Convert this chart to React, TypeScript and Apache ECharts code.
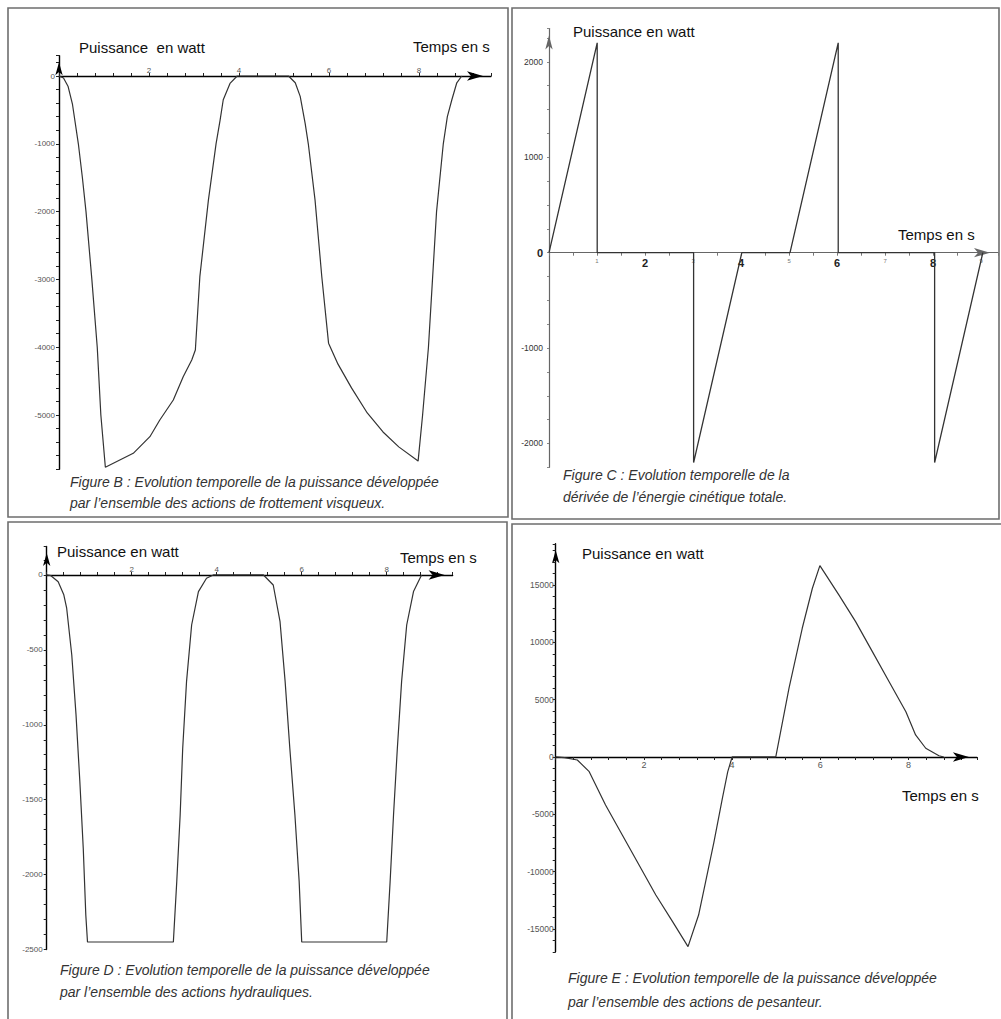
import React, { useEffect, useRef } from "react";
import * as echarts from "echarts";

// ---------- Data ----------
// Figure B : frottement visqueux
const timeB = [0, 0.1, 0.2, 0.3, 0.43, 0.52, 0.6, 0.73, 0.85, 0.93, 1.03, 1.65, 2.02, 2.24, 2.54, 2.76, 2.95, 3.03, 3.13, 3.32, 3.49, 3.58, 3.65, 3.8, 3.96, 5.1, 5.25, 5.36, 5.47, 5.54, 5.69, 5.84, 5.99, 6.2, 6.5, 6.85, 7.2, 7.55, 7.98, 8.08, 8.21, 8.3, 8.39, 8.54, 8.63, 8.73, 8.84, 8.95];
const powerB = [0, -30, -150, -420, -1000, -1500, -2000, -3000, -4000, -5000, -5770, -5565, -5320, -5074, -4779, -4435, -4189, -4041, -2960, -1830, -1000, -650, -350, -110, 0, 0, -100, -300, -700, -1000, -1830, -2960, -3940, -4250, -4600, -4970, -5250, -5470, -5680, -5000, -4000, -3000, -2000, -1000, -600, -350, -100, 0];

// Figure C : dérivée de l'énergie cinétique
const timeC = [0, 1, 1, 3, 3, 4, 5, 6, 6, 8, 8, 9];
const powerC = [0, 2200, 0, 0, -2200, 0, 0, 2200, 0, 0, -2200, 0];

// Figure D : actions hydrauliques
const timeD = [0, 0.1, 0.27, 0.4, 0.47, 0.59, 0.69, 0.78, 0.86, 0.92, 0.96, 2.98, 3.06, 3.14, 3.2, 3.29, 3.41, 3.57, 3.76, 3.92, 5.1, 5.33, 5.49, 5.61, 5.72, 5.84, 5.94, 6.0, 8.0, 8.08, 8.16, 8.25, 8.35, 8.47, 8.63, 8.82];
const powerD = [0, -5, -45, -130, -222, -534, -934, -1380, -1824, -2270, -2450, -2450, -2047, -1602, -1157, -712, -334, -111, -22, 0, 0, -67, -312, -712, -1157, -1602, -2047, -2450, -2450, -2047, -1602, -1157, -712, -334, -111, 0];

// Figure E : pesanteur
const timeE = [0, 0.2, 0.49, 0.76, 1.13, 1.51, 1.89, 2.27, 2.65, 3.0, 3.24, 3.4, 3.59, 3.78, 3.9, 4.0, 4.99, 5.29, 5.59, 5.82, 5.99, 6.42, 6.8, 7.18, 7.56, 7.94, 8.16, 8.39, 8.69, 8.8];
const powerE = [0, -50, -262, -1283, -4188, -6806, -9424, -12042, -14372, -16550, -13790, -10880, -7390, -3600, -1300, 0, 0, 6000, 11230, 14720, 16700, 14140, 11810, 9190, 6570, 3950, 1920, 760, 110, 0];

// Texts
const yName = "Puissance en watt";
const yNameB = "Puissance  en watt";
const xName = "Temps en s";
const captionB = ["Figure B : Evolution temporelle de la puissance développée", "par l’ensemble des actions de frottement visqueux."];
const captionC = ["Figure C : Evolution temporelle de la", "dérivée de l’énergie cinétique totale."];
const captionD = ["Figure D : Evolution temporelle de la puissance développée", "par l’ensemble des actions hydrauliques."];
const captionE = ["Figure E : Evolution temporelle de la puissance développée", "par l’ensemble des actions de pesanteur."];

const FONT = "'Liberation Sans', Arial, sans-serif";

const pairs = (t: number[], p: number[]) => t.map((v, i) => [v, p[i]]);

const isMult = (v: number, m: number) => {
  const q = v / m;
  return Math.abs(q - Math.round(q)) < 1e-6;
};

function arrowLine(color: string, w: number, size: number[]) {
  return {
    show: true,
    onZero: false,
    lineStyle: { color, width: w },
    symbol: ["none", "arrow"],
    symbolSize: size,
    symbolOffset: [0, -size[1] / 2],
  };
}

function text(x: number, y: number, t: string, size: number, opts: any = {}) {
  return {
    type: "text",
    x,
    y,
    silent: true,
    style: {
      text: t,
      fontSize: size,
      fontFamily: FONT,
      fill: opts.fill || "#111",
      fontStyle: opts.italic ? "italic" : "normal",
      verticalAlign: "middle",
      align: "left",
    },
  };
}

function frame(x: number, y: number, w: number, h: number) {
  return {
    type: "rect",
    silent: true,
    shape: { x, y, width: w, height: h },
    style: { fill: "none", stroke: "#6e6e6e", lineWidth: 1.6 },
  };
}

// panel geometry: [left, top, width, height] of the plot, and pixel row of P = 0
const panels = [
  { left: 59, top: 55.66, width: 432, height: 413.58, zeroY: 76, xMax: 9.6 },
  { left: 549, top: 28.5, width: 450.7, height: 438.85, zeroY: 252.7, xMax: 9.35 },
  { left: 46.7, top: 546.5, width: 405.9, height: 403, zeroY: 575, xMax: 9.55 },
  { left: 555.7, top: 543.8, width: 421.2, height: 408, zeroY: 757, xMax: 9.55 },
];

export default function App() {
  const ref = useRef<HTMLDivElement>(null);

  useEffect(() => {
    if (!ref.current) return;
    const chart = echarts.init(ref.current, undefined, { renderer: "svg" });

    const tickLbl = { fontSize: 8, color: "#555", fontFamily: FONT };
    const lineSty = { color: "#333", width: 1.2 };
    const evenLbl = (v: number) => (isMult(v, 2) && Math.round(v) !== 0 ? String(Math.round(v)) : "");

    const grids: any[] = [];
    panels.forEach((p) => grids.push({ left: p.left, top: p.top, width: p.width, height: p.height }));
    // thin grids that carry the visible time axes on the P = 0 row
    panels.forEach((p, i) => {
      const pos = i === 0 || i === 2 ? "top" : "bottom";
      grids.push({ left: p.left, top: pos === "top" ? p.zeroY : p.zeroY - 1, width: p.width, height: 1 });
    });

    const hiddenX = panels.map((p, i) => ({ type: "value", gridIndex: i, min: 0, max: p.xMax, show: false }));
    const hiddenY = panels.map((p, i) => ({ type: "value", gridIndex: 4 + i, min: 0, max: 1, show: false }));

    const visibleX = [
      {
        type: "value", gridIndex: 4, min: 0, max: panels[0].xMax, interval: 0.4, position: "top",
        axisLine: arrowLine("#000", 1.4, [7, 16]),
        axisTick: { show: true, length: 3, lineStyle: { color: "#222" } },
        axisLabel: { ...tickLbl, margin: 2, formatter: evenLbl },
        splitLine: { show: false },
      },
      {
        type: "value", gridIndex: 5, min: 0, max: panels[1].xMax, interval: 0.5, position: "bottom",
        axisLine: arrowLine("#666", 1.2, [7, 16]),
        axisTick: { show: true, length: 3, lineStyle: { color: "#777" } },
        axisLabel: {
          margin: 5,
          formatter: (v: number) => {
            const r = Math.round(v);
            if (!isMult(v, 1) || r === 0) return "";
            return r % 2 === 0 ? "{b|" + r + "}" : "{s|" + r + "}";
          },
          rich: {
            b: { fontSize: 11, fontWeight: "bold", color: "#222", fontFamily: FONT },
            s: { fontSize: 6, color: "#777", fontFamily: FONT },
          },
        },
        splitLine: { show: false },
      },
      {
        type: "value", gridIndex: 6, min: 0, max: panels[2].xMax, interval: 0.4, position: "top",
        axisLine: arrowLine("#000", 1.4, [7, 16]),
        axisTick: { show: true, length: 3, lineStyle: { color: "#222" } },
        axisLabel: { ...tickLbl, margin: 2, formatter: evenLbl },
        splitLine: { show: false },
      },
      {
        type: "value", gridIndex: 7, min: 0, max: panels[3].xMax, interval: 0.4, position: "bottom",
        axisLine: arrowLine("#000", 1.4, [7, 16]),
        axisTick: { show: true, length: 3, lineStyle: { color: "#222" } },
        axisLabel: { ...tickLbl, fontSize: 9, margin: 3, formatter: evenLbl },
        splitLine: { show: false },
      },
    ];

    const visibleY = [
      {
        type: "value", gridIndex: 0, min: -5800, max: 300, interval: 200, position: "left",
        axisLine: arrowLine("#000", 1.4, [5.5, 13]),
        axisTick: { show: true, length: 3, lineStyle: { color: "#222" } },
        axisLabel: { ...tickLbl, margin: 4, formatter: (v: number) => (isMult(v, 1000) ? String(Math.round(v)) : "") },
        splitLine: { show: false },
      },
      {
        type: "value", gridIndex: 1, min: -2250, max: 2350, interval: 250, position: "left",
        axisLine: arrowLine("#666", 1.2, [5.5, 14]),
        axisTick: { show: true, length: 2, lineStyle: { color: "#888" } },
        axisLabel: {
          margin: 6,
          formatter: (v: number) => {
            if (!isMult(v, 1000)) return "";
            const r = Math.round(v);
            return r === 0 ? "{b|0}" : "{m|" + r + "}";
          },
          rich: {
            b: { fontSize: 11, fontWeight: "bold", color: "#222", fontFamily: FONT },
            m: { fontSize: 8.5, color: "#333", fontFamily: FONT },
          },
        },
        splitLine: { show: false },
      },
      {
        type: "value", gridIndex: 2, min: -2500, max: 190, interval: 100, position: "left",
        axisLine: arrowLine("#000", 1.4, [5.5, 13]),
        axisTick: { show: true, length: 3, lineStyle: { color: "#222" } },
        axisLabel: { ...tickLbl, margin: 4, formatter: (v: number) => (isMult(v, 500) ? String(Math.round(v)) : "") },
        splitLine: { show: false },
      },
      {
        type: "value", gridIndex: 3, min: -17000, max: 18600, interval: 1000, position: "left",
        axisLine: arrowLine("#000", 1.4, [5.5, 13]),
        axisTick: { show: true, length: 3, lineStyle: { color: "#222" } },
        axisLabel: { ...tickLbl, fontSize: 8.5, margin: 2, formatter: (v: number) => (isMult(v, 5000) ? String(Math.round(v)) : "") },
        splitLine: { show: false },
      },
    ];

    const option: any = {
      animation: false,
      backgroundColor: "#fff",
      grid: grids,
      xAxis: [...hiddenX, ...visibleX],
      yAxis: [...visibleY, ...hiddenY],
      series: [
        { type: "line", xAxisIndex: 0, yAxisIndex: 0, data: pairs(timeB, powerB), showSymbol: false, symbol: "none", lineStyle: lineSty, z: 3 },
        { type: "line", xAxisIndex: 1, yAxisIndex: 1, data: pairs(timeC, powerC), showSymbol: false, symbol: "none", lineStyle: { color: "#333", width: 1.3 }, z: 3 },
        { type: "line", xAxisIndex: 2, yAxisIndex: 2, data: pairs(timeD, powerD), showSymbol: false, symbol: "none", lineStyle: lineSty, z: 3 },
        { type: "line", xAxisIndex: 3, yAxisIndex: 3, data: pairs(timeE, powerE), showSymbol: false, symbol: "none", lineStyle: lineSty, z: 3 },
      ],
      graphic: [
        frame(8, 8, 500, 509),
        frame(512, 8, 487, 511),
        frame(8, 522, 499, 520),
        frame(512, 524, 500, 520),
        // axis names
        text(79, 47.7, yNameB, 15),
        text(413, 46, xName, 15),
        text(573, 31.7, yName, 15),
        text(898, 234, xName, 15),
        text(57, 551.7, yName, 15),
        text(400, 557.7, xName, 15),
        text(582, 553.3, yName, 15),
        text(902, 795, xName, 15),
        // captions
        text(70, 481.7, captionB[0], 14, { italic: true, fill: "#333" }),
        text(70, 503, captionB[1], 14, { italic: true, fill: "#333" }),
        text(563, 475, captionC[0], 14, { italic: true, fill: "#333" }),
        text(563, 496.7, captionC[1], 14, { italic: true, fill: "#333" }),
        text(60, 970, captionD[0], 14, { italic: true, fill: "#333" }),
        text(60, 991.7, captionD[1], 14, { italic: true, fill: "#333" }),
        text(568, 978.3, captionE[0], 14, { italic: true, fill: "#333" }),
        text(568, 1001.7, captionE[1], 14, { italic: true, fill: "#333" }),
      ],
    };

    chart.setOption(option);
    return () => chart.dispose();
  }, []);

  return (
    <div
      ref={ref}
      style={{ position: "absolute", left: 0, top: 0, width: 1001, height: 1019, background: "#fff" }}
    />
  );
}
